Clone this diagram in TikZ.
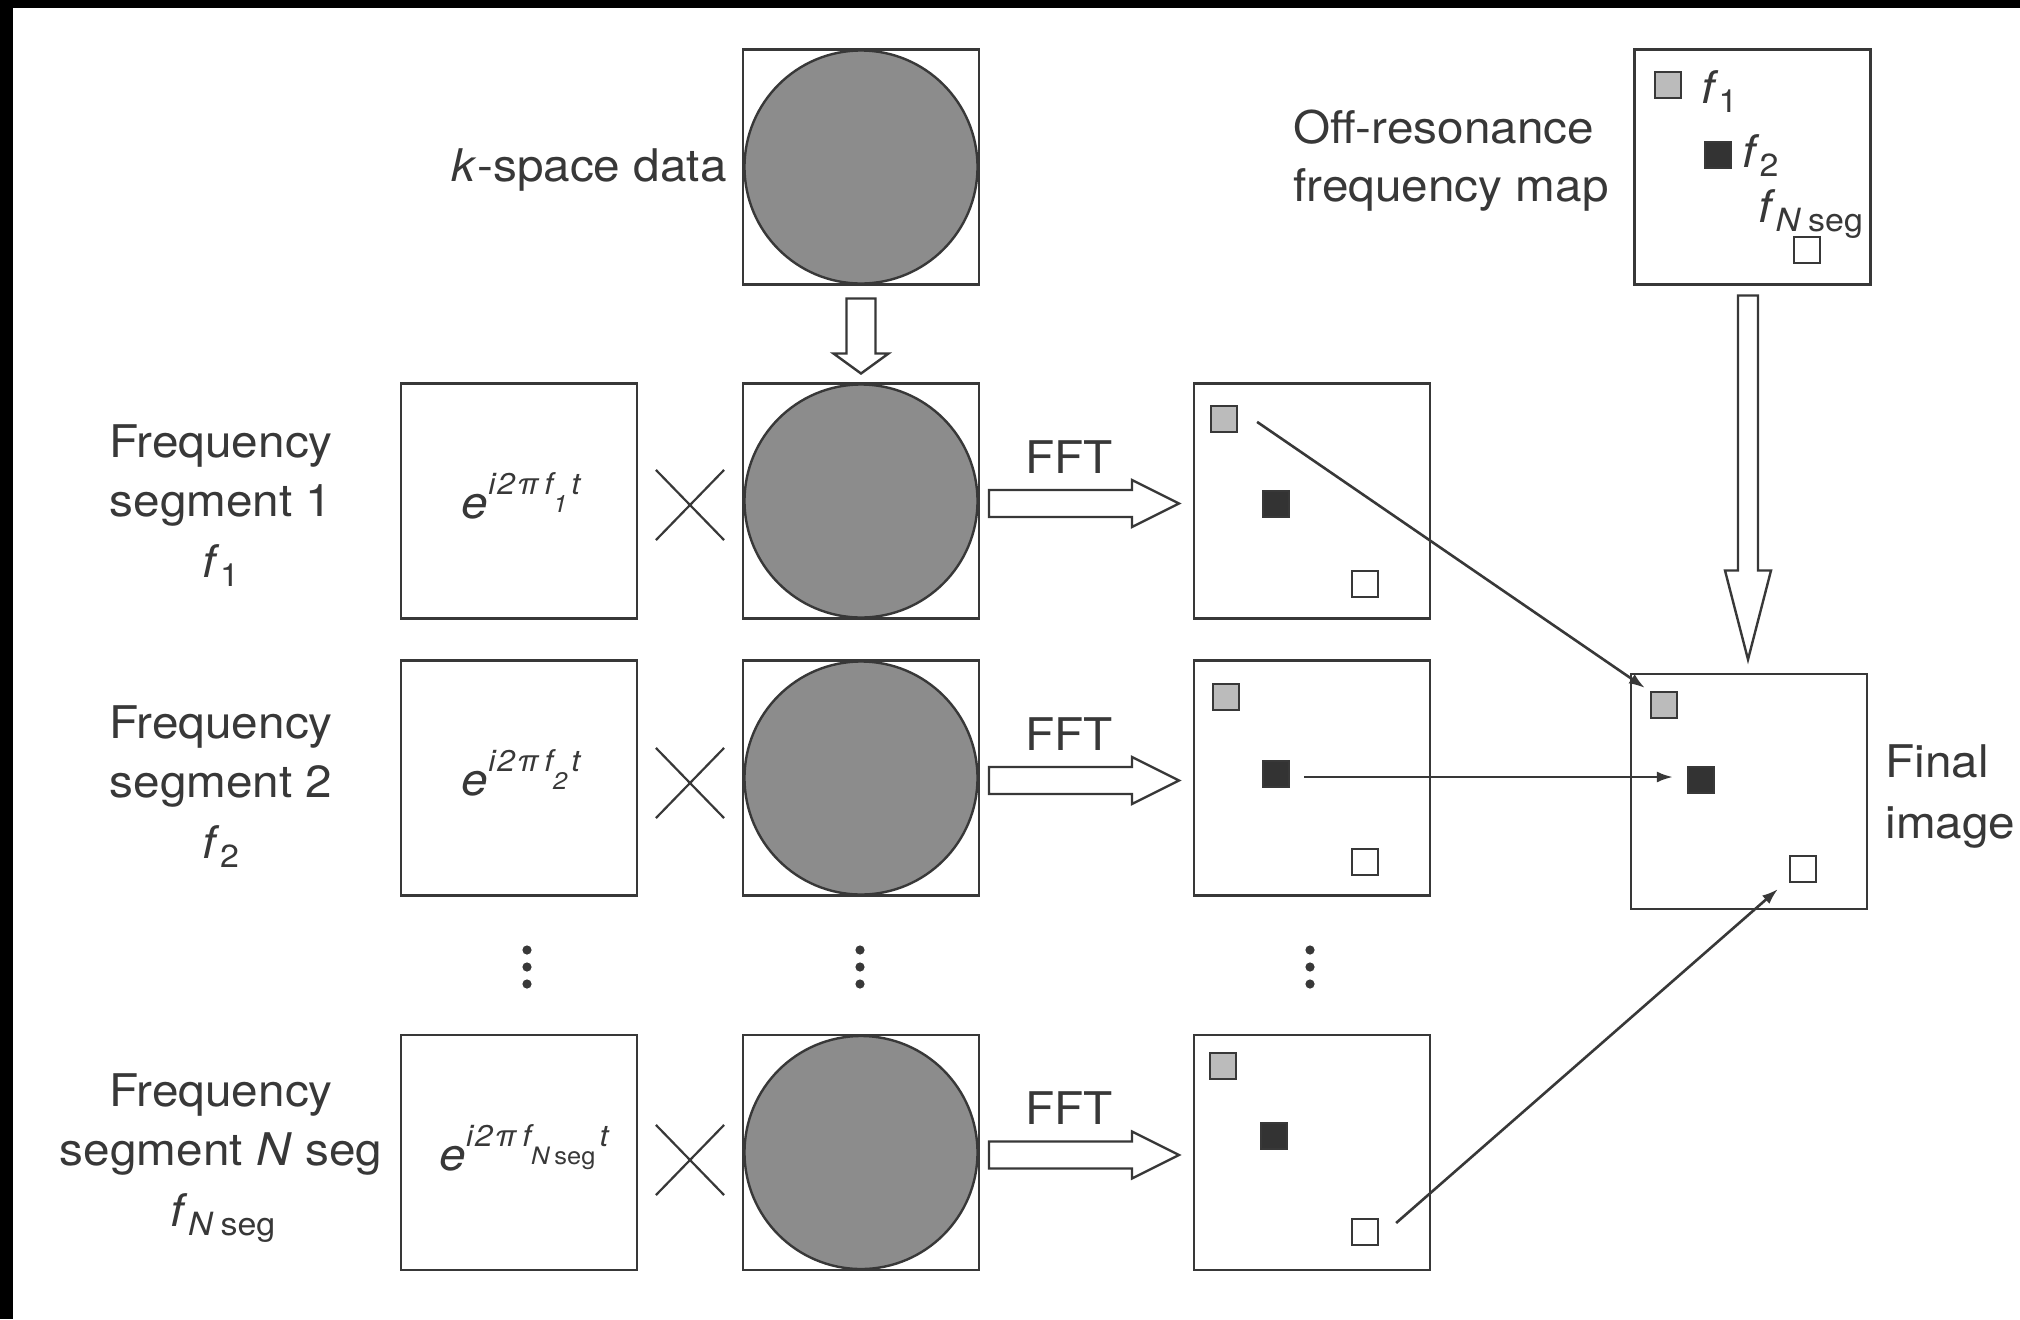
\documentclass[tikz,border=0pt]{standalone}
\usepackage{fontspec}
\setmainfont{TeX Gyre Heros}[FakeStretch=1.06]
\usetikzlibrary{shapes.misc,arrows.meta,calc}
\definecolor{ink}{HTML}{383838}
\definecolor{diskgray}{HTML}{8C8C8C}
\definecolor{lgray}{HTML}{BBBBBB}
\definecolor{dgray}{HTML}{333333}
\newcommand\fs[2]{\textit{f}\raisebox{-4.5pt}{\fontsize{#1}{#1}\selectfont #2}}
\newcommand\expo[1]{\textit{e}\raisebox{12pt}{\fontsize{15}{16}\selectfont\itshape i\kern1pt 2\kern1pt π\kern3pt f\raisebox{-9pt}{\fontsize{12}{13}\selectfont #1}\kern2pt t}}
\tikzset{
  frame/.style={draw=ink, line width=1.4pt, minimum width=118pt, minimum height=117.5pt, inner sep=0pt, outer sep=0pt, fill=white},
  disk/.style={circle, draw=ink, line width=1.2pt, fill=diskgray, minimum size=116.5pt, inner sep=0pt},
  sq/.style={draw=ink, line width=1.1pt, minimum size=13pt, inner sep=0pt},
  sqg/.style={sq, fill=lgray},
  sqb/.style={sq, fill=dgray},
  sqw/.style={sq, fill=white},
  lbl/.style={text=ink, font=\fontsize{22.5}{27}\selectfont, inner sep=0pt},
  conn/.style={draw=ink, line width=1.3pt, -{Latex[length=8pt,width=5.5pt]}},
  block/.style={draw=ink, line width=1.2pt, fill=white, line join=miter},
  times/.style={cross out, draw=ink, line width=1.1pt, minimum width=33pt, minimum height=34pt, inner sep=0pt},
}
\begin{document}
\begin{tikzpicture}[x=0.5pt,y=-0.5pt]
\useasboundingbox (0,0) rectangle (2020,1319);
\fill[white] (0,0) rectangle (2020,1319);
\fill[black] (0,0) rectangle (2020,8);
\fill[black] (0,0) rectangle (13,1319);

% k-space data
\node[frame] (ks) at (861,167) {};
\node[disk] (ksd) at (ks) {};
\node[lbl, anchor=base east] (kslbl) at (727,181) {\textit{k}-space data};
\draw[block] ([shift={(-14.5,14)}]ks.south) -- ++(29,0) -- ++(0,55) -- ++(13,0) -- ++(-27.5,20) -- ++(-27.5,-20) -- ++(13,0) -- cycle;

% row 1
\node[lbl, anchor=base] (l1a) at (221,457) {Frequency};
\node[lbl, anchor=base] (l1b) at (221,516) {segment 1};
\node[lbl, anchor=base] (l1c) at (221,577) {\fs{16}{1}};
\node[frame] (e1) at (519,501) {};
\node[lbl, anchor=base] (e1t) at (521,518) {\expo{1}};
\node[times] (x1) at (690,505) {};
\node[frame] (c1) at (861,501) {};
\node[disk] (d1) at (c1) {};
\node[frame] (r1) at (1312,501) {};
\node[sqg] (g1) at (1224,419) {};
\node[sqb] (b1) at (1276,504) {};
\node[sqw] (w1) at (1365,584) {};
\draw[block] ([shift={(10,-11)}]c1.east) -- ++(143,0) -- ++(0,-10) -- ++(47,23.5) -- ++(-47,23.5) -- ++(0,-10) -- ++(-143,0) -- cycle;
\node[lbl, anchor=base] (fft1) at (1069,473) {FFT};

% row 2
\node[lbl, anchor=base] (l2a) at (221,738) {Frequency};
\node[lbl, anchor=base] (l2b) at (221,797) {segment 2};
\node[lbl, anchor=base] (l2c) at (221,858) {\fs{16}{2}};
\node[frame] (e2) at (519,778) {};
\node[lbl, anchor=base] (e2t) at (521,795) {\expo{2}};
\node[times] (x2) at (690,783) {};
\node[frame] (c2) at (861,778) {};
\node[disk] (d2) at (c2) {};
\node[frame] (r2) at (1312,778) {};
\node[sqg] (g2) at (1226,697) {};
\node[sqb] (b2) at (1276,774) {};
\node[sqw] (w2) at (1365,862) {};
\draw[block] ([shift={(10,-11)}]c2.east) -- ++(143,0) -- ++(0,-10) -- ++(47,23.5) -- ++(-47,23.5) -- ++(0,-10) -- ++(-143,0) -- cycle;
\node[lbl, anchor=base] (fft2) at (1069,750) {FFT};

% dots
\foreach \x in {527,860,1310} \foreach \y in {950,967,984} \fill[ink] (\x,\y) circle (2.3pt);

% row N
\node[lbl, anchor=base] (lNa) at (221,1106) {Frequency};
\node[lbl, anchor=base] (lNb) at (221,1165) {segment \textit{N} seg};
\node[lbl, anchor=base] (lNc) at (223,1226) {\fs{16}{\textit{N}\kern3.5pt seg}};
\node[frame] (eN) at (519,1152.5) {};
\node[lbl, anchor=base] (eNt) at (524,1170) {\expo{N\kern2.5pt\upshape seg}};
\node[times] (xN) at (690,1160) {};
\node[frame] (cN) at (861,1152.5) {};
\node[disk] (dN) at (cN) {};
\node[frame] (rN) at (1312,1152.5) {};
\node[sqg] (gN) at (1223,1066) {};
\node[sqb] (bN) at (1274,1136) {};
\node[sqw] (wN) at (1365,1232) {};
\draw[block] ([shift={(10,-11)}]cN.east) -- ++(143,0) -- ++(0,-10) -- ++(47,23.5) -- ++(-47,23.5) -- ++(0,-10) -- ++(-143,0) -- cycle;
\node[lbl, anchor=base] (fftN) at (1069,1124) {FFT};

% off-resonance map
\node[frame] (om) at (1752.5,167) {};
\node[sqg] (og) at (1668,85) {};
\node[sqb] (ob) at (1718,155) {};
\node[sqw] (ow) at (1807,250) {};
\node[lbl, anchor=base west] (of1) at (1701,103) {\fs{16}{1}};
\node[lbl, anchor=base west] (of2) at (1742,167) {\fs{16}{2}};
\node[lbl, anchor=base west] (ofn) at (1758,222) {\fs{16}{\textit{N}\kern3.5pt seg}};
\node[lbl, anchor=base west] (omt1) at (1293,143) {Off-resonance};
\node[lbl, anchor=base west] (omt2) at (1293,201) {frequency map};

% final image
\node[frame] (fin) at (1749,791.5) {};
\node[sqg] (fg) at (1664,705) {};
\node[sqb] (fb) at (1701,780) {};
\node[sqw] (fw) at (1803,869) {};
\node[lbl, anchor=base west] (fint1) at (1885,777) {Final};
\node[lbl, anchor=base west] (fint2) at (1885,838) {image};
\draw[block] ([shift={(-14.5,11)}]om.south) -- ++(20,0) -- ++(0,275) -- ++(13,0) -- ++(-23,89) -- ++(-23,-89) -- ++(13,0) -- cycle;

% connectors
\draw[conn] ([shift={(19,17)}]g1.north east) -- ([shift={(-5,-3)}]fg.north west);
\draw[conn] ([shift={(14,3)}]b2.east) -- ([shift={(-14,-3)}]fb.west);
\draw[conn] ([shift={(17,-9)}]wN.east) -- ([shift={(-11,6)}]fw.south west);
\end{tikzpicture}
\end{document}
